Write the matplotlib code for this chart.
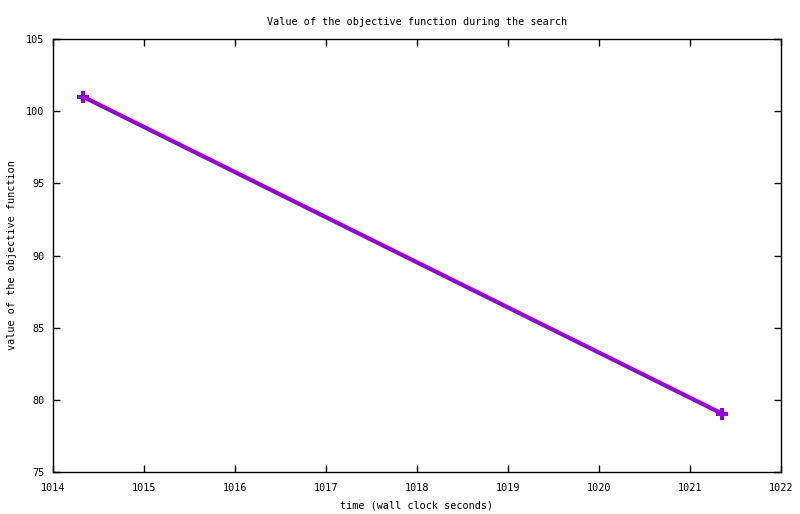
import matplotlib
matplotlib.use('Agg')
import matplotlib.pyplot as plt

# search trace: wall clock time vs objective value
times = [1014.33, 1021.35]
values = [101.0, 79.05]

x_ticks = [1014, 1015, 1016, 1017, 1018, 1019, 1020, 1021, 1022]
y_ticks = [75, 80, 85, 90, 95, 100, 105]

plt.rcParams['font.family'] = ['DejaVu Sans Mono', 'Liberation Mono']
plt.rcParams['font.size'] = 7.3

fig = plt.figure(figsize=(8.0, 5.14), dpi=100)
ax = fig.add_axes([53 / 800, 1 - 472 / 514, (781 - 53) / 800, (472 - 39) / 514])

ax.plot(times, values, color='#9400d3', linewidth=3, marker='P',
        markersize=8, markeredgewidth=0)

ax.set_xlim(1014, 1022)
ax.set_ylim(75, 105)
ax.set_xticks(x_ticks)
ax.set_yticks(y_ticks)
ax.tick_params(direction='in', length=5, width=1, top=True, right=True)
ax.tick_params(axis='x', pad=8)
ax.tick_params(axis='y', pad=6)
for s in ax.spines.values():
    s.set_linewidth(1)

ax.set_xlabel('time (wall clock seconds)', labelpad=5)
ax.set_ylabel('value of the objective function', labelpad=7)
ax.set_title('Value of the objective function during the search', pad=10, fontsize=7.3)

fig.savefig('out.png', dpi=100)
